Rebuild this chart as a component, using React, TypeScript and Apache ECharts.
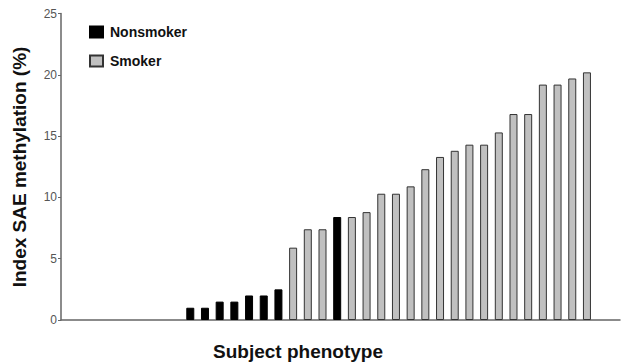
import React, { useEffect, useRef } from "react";
import * as echarts from "echarts";

// Subject position along the x axis (ordered by methylation value)
const subjectIndex = [
  1, 2, 3, 4, 5, 6, 7, 8, 9, 10, 11, 12, 13, 14, 15, 16, 17, 18, 19, 20, 21, 22, 23, 24, 25, 26, 27, 28,
];
const methylation = [
  1.0, 1.0, 1.5, 1.5, 2.0, 2.0, 2.5, 5.9, 7.4, 7.4, 8.4, 8.4, 8.8, 10.3, 10.3, 10.9, 12.3, 13.3, 13.8,
  14.3, 14.3, 15.3, 16.8, 16.8, 19.2, 19.2, 19.7, 20.2,
];
const phenotype = [
  "N", "N", "N", "N", "N", "N", "N", "S", "S", "S", "N", "S", "S", "S", "S", "S", "S", "S", "S",
  "S", "S", "S", "S", "S", "S", "S", "S", "S",
];
const yTicks = [0, 5, 10, 15, 20, 25];

export default function App() {
  const ref = useRef<HTMLDivElement>(null);
  useEffect(() => {
    if (!ref.current) return;
    const chart = echarts.init(ref.current, null, { renderer: "svg" });
    const non = subjectIndex
      .map((k, i) => (phenotype[i] === "N" ? [k, methylation[i]] : null))
      .filter((d) => d !== null);
    const smk = subjectIndex
      .map((k, i) => (phenotype[i] === "S" ? [k, methylation[i]] : null))
      .filter((d) => d !== null);
    const font = "'Liberation Sans', Arial, sans-serif";
    chart.setOption({
      animation: false,
      grid: { left: 61, right: 3, top: 13.5, bottom: 42 },
      legend: {
        orient: "vertical",
        left: 89,
        top: 25,
        padding: 0,
        itemWidth: 13,
        itemHeight: 11,
        itemGap: 15,
        icon: "rect",
        textStyle: { fontFamily: font, fontWeight: "bold", fontSize: 14, color: "#111", padding: [0, 0, 0, 2] },
        data: ["Nonsmoker", "Smoker"],
      },
      xAxis: {
        type: "value",
        min: -7.8,
        max: 30.25,
        axisLine: { show: true, lineStyle: { color: "#666", width: 1.5 } },
        axisTick: { show: false },
        axisLabel: { show: false },
        splitLine: { show: false },
      },
      yAxis: {
        type: "value",
        min: yTicks[0],
        max: yTicks[yTicks.length - 1],
        interval: 5,
        axisLine: { show: true, onZero: false, lineStyle: { color: "#666", width: 1.5 } },
        axisTick: { show: true, length: 3, lineStyle: { color: "#666" } },
        axisLabel: { fontFamily: font, fontSize: 12, color: "#555", margin: 4 },
        splitLine: { show: false },
      },
      graphic: [
        {
          type: "text",
          x: 19,
          y: 167,
          rotation: Math.PI / 2,
          style: {
            text: "Index SAE methylation (%)",
            fontFamily: font,
            fontWeight: "bold",
            fontSize: 19,
            fill: "#111",
            align: "center",
            verticalAlign: "middle",
          },
        },
        {
          type: "text",
          x: 298,
          y: 351,
          style: {
            text: "Subject phenotype",
            fontFamily: font,
            fontWeight: "bold",
            fontSize: 19,
            fill: "#111",
            align: "center",
            verticalAlign: "middle",
          },
        },
      ],
      series: [
        {
          name: "Nonsmoker",
          type: "bar",
          barWidth: 8,
          barGap: "-100%",
          data: non,
          itemStyle: { color: "#000", borderColor: "#000", borderWidth: 1 },
        },
        {
          name: "Smoker",
          type: "bar",
          barWidth: 8,
          barGap: "-100%",
          data: smk,
          itemStyle: { color: "#c0c0c0", borderColor: "#333", borderWidth: 1 },
        },
      ],
    });
    return () => chart.dispose();
  }, []);
  return <div ref={ref} style={{ width: 623, height: 362, position: "absolute", left: 0, top: 0 }} />;
}
